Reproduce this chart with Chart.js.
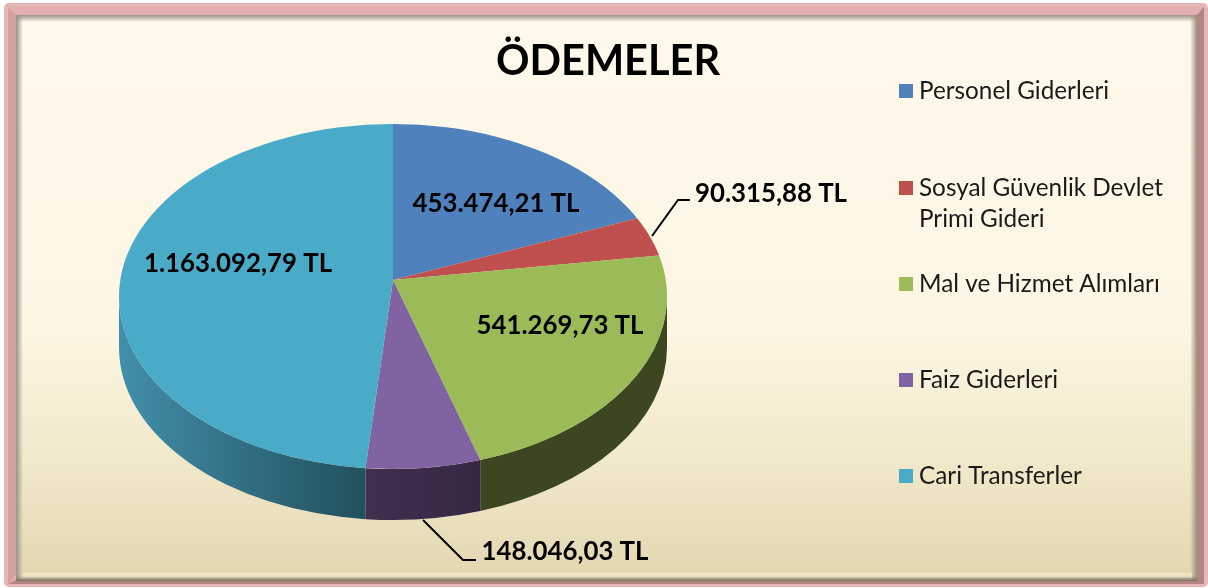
<!DOCTYPE html>
<html><head><meta charset="utf-8">
<style>html,body{margin:0;padding:0;background:#fff;overflow:hidden}canvas{display:block}</style>
<script src="https://cdn.jsdelivr.net/npm/chart.js@4"></script>
</head><body><canvas id="c" width="1208" height="588"></canvas>
<script>
const categories = ['Personel Giderleri', 'Sosyal Güvenlik Devlet Primi Gideri', 'Mal ve Hizmet Alımları', 'Faiz Giderleri', 'Cari Transferler'];
const legendLines = [['Personel Giderleri'], ['Sosyal Güvenlik Devlet', 'Primi Gideri'], ['Mal ve Hizmet Alımları'], ['Faiz Giderleri'], ['Cari Transferler']];
const values = [453474.21, 90315.88, 541269.73, 148046.03, 1163092.79];
const valueLabels = ['453.474,21 TL', '90.315,88 TL', '541.269,73 TL', '148.046,03 TL', '1.163.092,79 TL'];
const colors = ['#4f81bd', '#c0504d', '#9bbb59', '#8064a2', '#4aabc9'];
const wallStops = [['#2f4c70', '#2f4c70'], ['#73302e', '#73302e'], ['#3c4722', '#3c4722'], ['#412f4e', '#362843'], ['#428fab', '#22505c']];

// layout of the projected pie
const P = {ax: 393, ay: 280, cx: 393, cy: 296.5, rx: 274, ry: 172.5, depth: 51, flat: 0.63, reach: 360};
const labelPos = [[496, 204], [771, 194], [560, 326], [565, 552], [238, 264]];
const legendY = [91, 188, 284, 380, 476];
const leaders = [[[652, 236], [678, 200], [690, 200]], [[423, 520], [463, 560], [476, 560]]];

function rectPath(ctx, x0, y0, x1, y1, r) { ctx.beginPath(); ctx.roundRect(x0, y0, x1 - x0, y1 - y0, r); }

function edge(ctx, x0, y0, x1, y1, rx, ry, rw, rh, c) {
  const g = ctx.createLinearGradient(x0, y0, x1, y1);
  g.addColorStop(0, c); g.addColorStop(1, c.replace(/[\d.]+\)$/, '0)'));
  ctx.fillStyle = g; ctx.fillRect(rx, ry, rw, rh);
}

function drawFrame(ctx) {
  rectPath(ctx, 4, 3, 1208, 587, 5); ctx.fillStyle = '#e6b6b6'; ctx.fill();
  rectPath(ctx, 8, 7, 1204, 584, 3);
  ctx.fillStyle = '#e3b0b0'; ctx.fill();
  ctx.fillStyle = '#d39f9f'; ctx.beginPath(); ctx.moveTo(8, 7); ctx.lineTo(16, 15); ctx.lineTo(16, 574); ctx.lineTo(8, 584); ctx.fill();
  ctx.fillStyle = '#b48480'; ctx.beginPath(); ctx.moveTo(1204, 7); ctx.lineTo(1197, 15); ctx.lineTo(1197, 581); ctx.lineTo(1204, 584); ctx.fill();
  ctx.beginPath(); ctx.moveTo(8, 584); ctx.lineTo(16, 580); ctx.lineTo(1197, 580); ctx.lineTo(1204, 584); ctx.fill();
  const g = ctx.createLinearGradient(0, 20, 0, 578);
  g.addColorStop(0, '#fff9ec'); g.addColorStop(0.55, '#fdf6e3'); g.addColorStop(0.8, '#f1e8c9'); g.addColorStop(1, '#e3d7b1');
  ctx.fillStyle = g; ctx.fillRect(16, 15, 1181, 565);
  // soft inner bevel
  edge(ctx, 16, 0, 23, 0, 16, 15, 7, 565, 'rgba(150,146,135,1)');
  edge(ctx, 0, 15, 0, 22, 16, 15, 1181, 7, 'rgba(150,146,135,1)');
  edge(ctx, 1197, 0, 1190, 0, 1190, 15, 7, 565, 'rgba(150,146,125,1)');
  ctx.fillStyle = '#efe5c4'; ctx.fillRect(22, 573, 1170, 5);
  edge(ctx, 0, 581, 0, 576, 16, 576, 1181, 5, 'rgba(120,115,100,1)');
}

function rayT(angle) {
  const dx = Math.cos(angle) * 1, dy = Math.sin(angle) * P.flat;
  const oy = P.ay - P.cy;
  const a = dx * dx / (P.rx * P.rx) + dy * dy / (P.ry * P.ry);
  const b = 2 * oy * dy / (P.ry * P.ry);
  const c = oy * oy / (P.ry * P.ry) - 1;
  const k = (-b + Math.sqrt(b * b - 4 * a * c)) / (2 * a);
  const px = k * dx, py = oy + k * dy;
  return Math.atan2(py / P.ry, px / P.rx);
}

const pie3d = {
  id: 'pie3d',
  beforeDraw(chart) { drawFrame(chart.ctx); },
  beforeDatasetsDraw(chart) {
    const ctx = chart.ctx, arcs = chart.getDatasetMeta(0).data;
    arcs.forEach((arc, i) => {
      let t0 = rayT(arc.startAngle), t1 = rayT(arc.endAngle);
      while (t1 < t0) t1 += Math.PI * 2;
      const ranges = [[t0, t1], [t0 - 2 * Math.PI, t1 - 2 * Math.PI]];
      ranges.forEach(([a, b]) => {
        a = Math.max(a, 0); b = Math.min(b, Math.PI);
        if (b <= a) return;
        const g = ctx.createLinearGradient(P.cx + P.rx * Math.cos(b), 0, P.cx + P.rx * Math.cos(a), 0);
        g.addColorStop(0, wallStops[i][0]); g.addColorStop(1, wallStops[i][1]);
        ctx.beginPath();
        ctx.ellipse(P.cx, P.cy, P.rx, P.ry, 0, a, b);
        ctx.ellipse(P.cx, P.cy + P.depth, P.rx, P.ry, 0, b, a, true);
        ctx.closePath();
        ctx.fillStyle = g; ctx.fill();
      });
    });
    const a0 = arcs[0], s = P.reach / a0.outerRadius;
    ctx.save();
    ctx.beginPath(); ctx.ellipse(P.cx, P.cy, P.rx, P.ry, 0, 0, Math.PI * 2); ctx.clip();
    ctx.translate(P.ax, P.ay); ctx.scale(s, s * P.flat); ctx.translate(-a0.x, -a0.y);
  },
  afterDatasetsDraw(chart) {
    const ctx = chart.ctx;
    ctx.restore();
    ctx.strokeStyle = '#000'; ctx.lineWidth = 2;
    leaders.forEach(l => { ctx.beginPath(); l.forEach((p, i) => i ? ctx.lineTo(p[0], p[1]) : ctx.moveTo(p[0], p[1])); ctx.stroke(); });
    ctx.fillStyle = '#000'; ctx.font = 'bold 25.8px Lato'; ctx.textAlign = 'center'; ctx.textBaseline = 'middle';
    valueLabels.forEach((t, i) => ctx.fillText(t, labelPos[i][0], labelPos[i][1]));
    ctx.textAlign = 'left'; ctx.font = '24.3px Lato';
    legendLines.forEach((lines, i) => {
      ctx.fillStyle = colors[i]; ctx.fillRect(899, legendY[i] - 7, 14, 14);
      ctx.fillStyle = '#1a1a1a';
      lines.forEach((t, j) => ctx.fillText(t, 919, legendY[i] + j * 31));
    });
  }
};

new Chart(document.getElementById('c'), {
  type: 'pie',
  plugins: [pie3d],
  data: {labels: categories, datasets: [{data: values, backgroundColor: colors, borderWidth: 0, clip: false}]},
  options: {
    responsive: false, animation: false,
    layout: {padding: {left: 8}},
    plugins: {
      legend: {display: false}, tooltip: {enabled: false},
      title: {display: true, text: 'ÖDEMELER', color: '#000', font: {family: 'Lato', size: 41.5, weight: 'bold'}, padding: {top: 37, bottom: 10}}
    }
  }
});
</script></body></html>
